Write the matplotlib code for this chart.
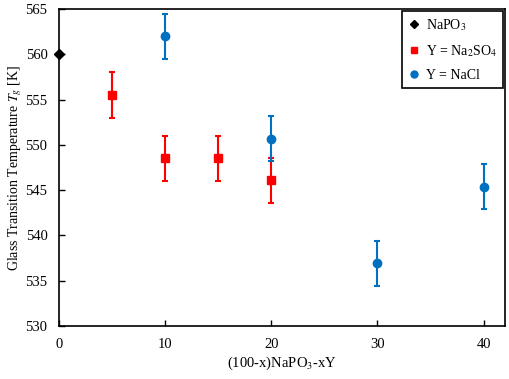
import numpy as np
import matplotlib
matplotlib.use("Agg")
import matplotlib.pyplot as plt
from matplotlib.lines import Line2D

plt.rcParams['font.family'] = ['Liberation Serif', 'DejaVu Serif']
plt.rcParams['mathtext.fontset'] = 'stix'
plt.rcParams['font.size'] = 10

# data
x_napo3 = [0]
tg_napo3 = [560]

x_so4 = [5, 10, 15, 20]
tg_so4 = [555.5, 548.5, 548.5, 546.1]
err_so4 = [2.5, 2.5, 2.5, 2.5]

x_cl = [10, 20, 30, 40]
tg_cl = [562.0, 550.7, 536.9, 545.4]
err_cl = [2.5, 2.5, 2.5, 2.5]

red = '#FF0000'
blue = '#0070C0'

fig = plt.figure(figsize=(5.1, 3.79), dpi=100)
ax = fig.add_axes([0.115, 0.14, 0.875, 0.836])

ax.plot(x_napo3, tg_napo3, 'D', color='black', markersize=5, clip_on=False, zorder=5)
ax.errorbar(x_so4, tg_so4, yerr=err_so4, fmt='s', color=red, markersize=6,
            elinewidth=1.5, capsize=2, capthick=1.5)
ax.errorbar(x_cl, tg_cl, yerr=err_cl, fmt='o', color=blue, markersize=6,
            elinewidth=1.5, capsize=2, capthick=1.5)

ax.set_xlim(0, 42)
ax.set_ylim(530, 565)
ax.set_xticks([0, 10, 20, 30, 40])
ax.set_yticks(np.arange(530, 566, 5))
ax.tick_params(direction='in', length=4, width=1, labelsize=10.5)
ax.tick_params(axis='y', pad=8)
ax.tick_params(axis='x', pad=9)
for s in ax.spines.values():
    s.set_linewidth(1.2)

ax.set_xlabel('(100-x)NaPO$_3$-xY', labelpad=2, fontsize=10.5)
ax.set_ylabel('Glass Transition Temperature $T_g$ [K]', labelpad=1, fontsize=10)

handles = [
    Line2D([], [], ls='none', marker='D', color='black', markersize=4),
    Line2D([], [], ls='none', marker='s', color=red, markersize=5),
    Line2D([], [], ls='none', marker='o', color=blue, markersize=5),
]
labels = ['NaPO$_3$', 'Y = Na$_2$SO$_4$', 'Y = NaCl']
leg = ax.legend(handles, labels, loc='upper right', fancybox=False, edgecolor='black',
                framealpha=1, handlelength=0.8, handletextpad=0.5, borderpad=0.4,
                labelspacing=0.75, borderaxespad=0.15)
leg.get_frame().set_linewidth(1.2)

fig.savefig('out.png', dpi=100)
